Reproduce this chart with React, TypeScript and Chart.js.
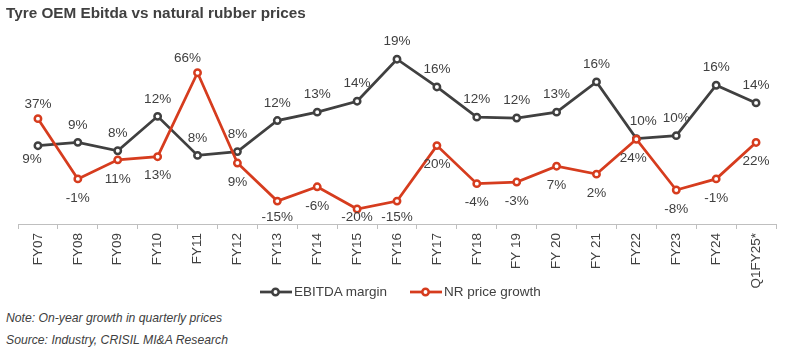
import React, { useEffect, useRef } from "react";
import { Chart, registerables } from "chart.js";

Chart.register(...registerables);

const categories = [
  "FY07", "FY08", "FY09", "FY10", "FY11", "FY12", "FY13", "FY14", "FY15", "FY16",
  "FY17", "FY18", "FY 19", "FY 20", "FY 21", "FY22", "FY23", "FY24", "Q1FY25*",
];

const ebitdaMargin = [
  8.7, 9.1, 8.1, 12.2, 7.55, 8.0, 11.7, 12.7, 14.0, 19.0,
  15.7, 12.1, 12.0, 12.7, 16.3, 9.55, 9.9, 15.9, 13.8,
];

const nrPriceGrowth = [
  37, -1, 11, 13, 66, 9, -15, -6, -20, -15,
  20, -4, -3, 7, 2, 24, -8, -1, 22,
];

const ebitdaLabelSide = [
  "below", "above", "above", "above", "above", "above", "above", "above", "above", "above",
  "above", "above", "above", "above", "above", "above", "above", "above", "above",
];
const nrLabelSide = [
  "above", "below", "below", "below", "above", "below", "below", "below", "below", "below",
  "below", "below", "below", "below", "below", "below", "below", "below", "below",
];

const GRAY = "#404040";
const RED = "#d63c1e";
const TEXT = "#404040";
const FONT = "'Liberation Sans', Arial, sans-serif";

const labelPlugin = {
  id: "pointLabels",
  afterDatasetsDraw(chart: any) {
    const ctx = chart.ctx;
    ctx.save();
    ctx.font = `13.5px ${FONT}`;
    ctx.fillStyle = TEXT;
    ctx.textAlign = "center";
    ctx.textBaseline = "middle";
    chart.data.datasets.forEach((ds: any, di: number) => {
      const meta = chart.getDatasetMeta(di);
      const cfg = ds.labelCfg;
      meta.data.forEach((pt: any, i: number) => {
        const v = ds.data[i];
        const side = cfg.sides[i];
        let y = side === "above" ? pt.y + cfg.above : pt.y + cfg.below;
        y = Math.min(y, chart.chartArea.bottom - 7);
        const nudge = cfg.nudge[i] || 0;
        ctx.fillText(`${Math.round(v)}%`, pt.x + nudge, y);
      });
    });
    ctx.restore();
  },
};

function LegendMark({ color }: { color: string }) {
  return (
    <svg width="32" height="12" style={{ display: "block" }}>
      <line x1="0" y1="6" x2="32" y2="6" stroke={color} strokeWidth="2.75" />
      <circle cx="15.5" cy="6" r="3.2" fill="#fff" stroke={color} strokeWidth="2.5" />
    </svg>
  );
}

export default function App() {
  const ref = useRef<HTMLCanvasElement | null>(null);

  useEffect(() => {
    if (!ref.current) return;
    const chart = new Chart(ref.current, {
      type: "line",
      data: {
        labels: categories,
        datasets: [
          {
            label: "EBITDA margin",
            data: ebitdaMargin,
            yAxisID: "y",
            borderColor: GRAY,
            backgroundColor: "#ffffff",
            borderWidth: 2.75,
            pointRadius: 3.2,
            pointBorderWidth: 2.5,
            pointBackgroundColor: "#ffffff",
            pointBorderColor: GRAY,
            tension: 0,
            order: 2,
            labelCfg: { sides: ebitdaLabelSide, above: -17.5, below: 14, nudge: { 0: -6, 15: 7 } },
          } as any,
          {
            label: "NR price growth",
            data: nrPriceGrowth,
            yAxisID: "y1",
            borderColor: RED,
            backgroundColor: "#ffffff",
            borderWidth: 2.75,
            pointRadius: 3.2,
            pointBorderWidth: 2.5,
            pointBackgroundColor: "#ffffff",
            pointBorderColor: RED,
            tension: 0,
            order: 1,
            labelCfg: { sides: nrLabelSide, above: -14.5, below: 19, nudge: { 4: -10, 15: -3 } },
          } as any,
        ],
      },
      options: {
        animation: false,
        responsive: false,
        maintainAspectRatio: false,
        layout: { padding: { left: 18, right: 14, top: 20, bottom: 0 } },
        plugins: {
          legend: { display: false },
          tooltip: { enabled: false },
          title: { display: false },
        },
        scales: {
          x: {
            type: "category",
            offset: true,
            grid: {
              display: true,
              offset: true,
              drawOnChartArea: false,
              drawTicks: true,
              tickLength: 5,
              color: "#bfbfbf",
              lineWidth: 1,
            },
            border: { display: true, color: "#bfbfbf", width: 1 },
            ticks: {
              autoSkip: false,
              minRotation: 90,
              maxRotation: 90,
              padding: 4,
              color: TEXT,
              font: { family: FONT, size: 13.5 },
            },
            afterFit: (scale: any) => {
              scale.height = 76;
            },
          },
          y: { display: false, min: -0.62, max: 23.67 },
          y1: { display: false, position: "right", min: -29.46, max: 99.24 },
        },
      },
      plugins: [labelPlugin],
    });
    return () => chart.destroy();
  }, []);

  const textStyle: React.CSSProperties = {
    position: "absolute",
    fontFamily: FONT,
    color: TEXT,
    whiteSpace: "nowrap",
    lineHeight: 1,
  };

  return (
    <div
      style={{
        position: "fixed",
        left: 0,
        top: 0,
        width: 790,
        height: 355,
        background: "#ffffff",
        overflow: "hidden",
      }}
    >
      <canvas
        ref={ref}
        width={790}
        height={300}
        style={{ position: "absolute", left: 0, top: 0, width: 790, height: 300 }}
      />
      <div style={{ ...textStyle, left: 6, top: 4.5, fontSize: 15.3, fontWeight: "bold" }}>
        Tyre OEM Ebitda vs natural rubber prices
      </div>
      <div style={{ position: "absolute", left: 260, top: 285, display: "flex", alignItems: "center", fontFamily: FONT, fontSize: 13.5, color: TEXT }}>
        <LegendMark color={GRAY} />
        <span style={{ marginLeft: 2, lineHeight: 1 }}>EBITDA margin</span>
      </div>
      <div style={{ position: "absolute", left: 410, top: 285, display: "flex", alignItems: "center", fontFamily: FONT, fontSize: 13.5, color: TEXT }}>
        <LegendMark color={RED} />
        <span style={{ marginLeft: 2, lineHeight: 1 }}>NR price growth</span>
      </div>
      <div style={{ ...textStyle, left: 6, top: 312, fontSize: 12.2, fontStyle: "italic" }}>
        Note: On-year growth in quarterly prices
      </div>
      <div style={{ ...textStyle, left: 6, top: 334, fontSize: 12.2, fontStyle: "italic" }}>
        Source: Industry, CRISIL MI&amp;A Research
      </div>
    </div>
  );
}
